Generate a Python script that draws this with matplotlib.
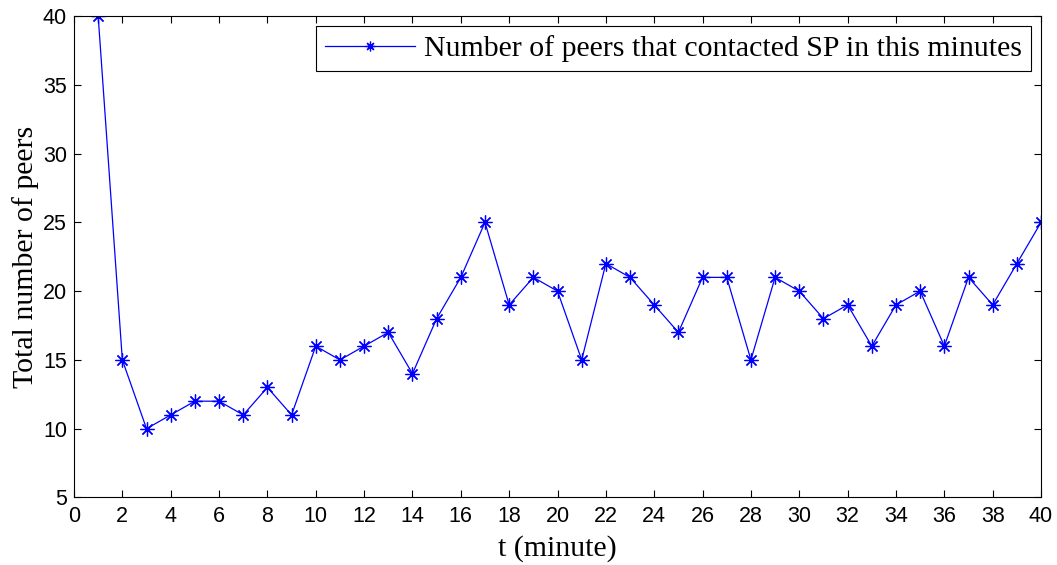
import numpy as np
import matplotlib.pyplot as plt

# Nombre de pairs ayant contacté le SP à chaque minute
minutes = np.arange(1, 41)
peers = [40, 15, 10, 11, 12, 12, 11, 13, 11, 16,
         15, 16, 17, 14, 18, 21, 25, 19, 21, 20,
         15, 22, 21, 19, 17, 21, 21, 15, 21, 20,
         18, 19, 16, 19, 20, 16, 21, 19, 22, 25]

fig = plt.figure(figsize=(10.57, 5.65), dpi=100)
ax = fig.add_axes([0.0700, 0.1195, 0.9149, 0.8522])

ax.plot(minutes, peers, color='blue', linewidth=0.9,
        marker=(8, 2, 0), markersize=10, markeredgewidth=0.9,
        label='Number of peers that contacted SP in this minutes')

ax.set_xlim(0, 40)
ax.set_ylim(5, 40)
ax.set_xticks(np.arange(0, 41, 2))
ax.set_yticks(np.arange(5, 41, 5))
ax.tick_params(direction='in', top=True, right=True, length=5,
               labelsize=15.5)
ax.tick_params(axis='x', pad=6)
ax.tick_params(axis='y', pad=5)
for lab in ax.get_xticklabels() + ax.get_yticklabels():
    lab.set_family('Liberation Sans')

ax.set_xlabel('t (minute)', family='Liberation Serif', fontsize=21.5, labelpad=6)
ax.set_ylabel('Total number of peers', family='Liberation Serif', fontsize=21.5, labelpad=3)

leg = ax.legend(loc='upper right', prop={'family': 'Liberation Serif', 'size': 21.5},
                fancybox=False, edgecolor='black', framealpha=1,
                borderpad=0.3, handlelength=3.0, handletextpad=0.3,
                borderaxespad=0.35, markerscale=0.7)
leg.get_frame().set_linewidth(0.8)

fig.savefig('out.png', dpi=100)
